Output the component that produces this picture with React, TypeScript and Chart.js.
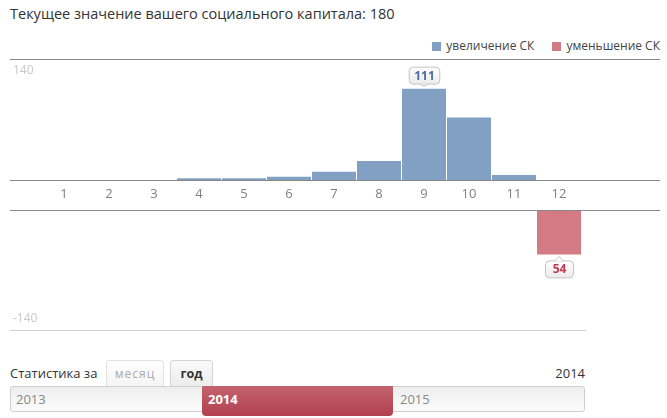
import React, { useEffect, useRef } from 'react';
import { Chart, registerables } from 'chart.js';

Chart.register(...registerables);

const FONT = '"Open Sans", sans-serif';

// data
const months = ['1', '2', '3', '4', '5', '6', '7', '8', '9', '10', '11', '12'];
const increase = [0, 0, 0, 2, 2, 4, 10, 23, 111, 76, 6, 0];
const decrease = [0, 0, 0, 0, 0, 0, 0, 0, 0, 0, 0, -54];
const topTick = 140;
const bottomTick = -140;
const currentValue = 180;
const years = ['2013', '2014', '2015'];
const selectedYear = '2014';

const BLUE = '#829fc4';
const RED = '#d47a85';

// draws the zero line, the edge tick label and the badge over the biggest bar
const decorPlugin = {
  id: 'decor',
  afterDatasetsDraw(chart: any, _args: any, opts: any) {
    const { ctx, chartArea, scales } = chart;
    const y = scales.y;
    const w = chart.width;
    ctx.save();

    const zero = Math.round(y.getPixelForValue(0)) + 0.5;
    ctx.strokeStyle = '#888';
    ctx.lineWidth = 1;
    ctx.beginPath();
    ctx.moveTo(0, zero);
    ctx.lineTo(w, zero);
    ctx.stroke();

    if (opts.bottomLine) {
      const b = Math.round(chartArea.bottom) + 0.5;
      ctx.strokeStyle = '#d0d0d0';
      ctx.beginPath();
      ctx.moveTo(0, b);
      ctx.lineTo(chartArea.right + 4.5, b);
      ctx.stroke();
    }

    // edge tick label
    ctx.font = `12px ${FONT}`;
    ctx.fillStyle = '#c8c8c8';
    ctx.textAlign = 'left';
    ctx.textBaseline = opts.tick > 0 ? 'top' : 'bottom';
    ctx.fillText(String(opts.tick), 3, y.getPixelForValue(opts.tick));

    // badge
    const data: number[] = chart.data.datasets[0].data;
    let idx = 0;
    data.forEach((v, i) => {
      if (Math.abs(v) > Math.abs(data[idx])) idx = i;
    });
    const bar = chart.getDatasetMeta(0).data[idx];
    const text = String(Math.abs(data[idx]));
    ctx.font = `bold 12px ${FONT}`;
    const bw = Math.max(28, ctx.measureText(text).width + 10);
    const bh = 17;
    const cx = Math.round(bar.x);
    const up = data[idx] > 0;
    const tip = up ? bar.y - 2 : bar.y + 2;
    const top = up ? tip - 3 - bh : tip + 4;
    const left = cx - bw / 2;
    const g = ctx.createLinearGradient(0, top, 0, top + bh);
    g.addColorStop(0, '#ffffff');
    g.addColorStop(1, '#ececec');
    ctx.fillStyle = g;
    ctx.strokeStyle = '#c4c4c4';
    ctx.beginPath();
    ctx.roundRect(left + 0.5, top + 0.5, bw, bh, 4);
    ctx.fill();
    ctx.stroke();
    // pointer
    ctx.beginPath();
    if (up) {
      ctx.moveTo(cx - 4, top + bh + 0.5);
      ctx.lineTo(cx, tip);
      ctx.lineTo(cx + 4, top + bh + 0.5);
    } else {
      ctx.moveTo(cx - 4, top + 0.5);
      ctx.lineTo(cx, tip);
      ctx.lineTo(cx + 4, top + 0.5);
    }
    ctx.fillStyle = up ? '#ececec' : '#ffffff';
    ctx.fill();
    ctx.stroke();
    ctx.fillStyle = opts.labelColor;
    ctx.textAlign = 'center';
    ctx.textBaseline = 'middle';
    ctx.fillText(text, cx + 0.5, top + bh / 2 + 1);
    ctx.restore();
  },
};

const baseOptions = (min: number, max: number, showX: boolean, decor: any, bottomPad: number) => ({
  responsive: true,
  maintainAspectRatio: false,
  animation: false as const,
  layout: { padding: { left: 31.5, right: 78.5, top: 0, bottom: bottomPad } },
  plugins: {
    legend: { display: false },
    tooltip: { enabled: false },
    decor,
  },
  scales: {
    x: {
      display: showX,
      grid: { display: false, drawTicks: false },
      border: { display: false },
      ticks: { color: '#808080', font: { family: FONT, size: 13 }, padding: 6 },
      afterFit: (scale: any) => {
        if (showX) scale.height = 30;
      },
    },
    y: { display: false, min, max },
  },
});

const BarPanel = ({
  values,
  color,
  min,
  max,
  showX,
  decor,
  height,
  bottomPad,
}: {
  values: number[];
  color: string;
  min: number;
  max: number;
  showX: boolean;
  decor: any;
  height: number;
  bottomPad: number;
}) => {
  const ref = useRef<HTMLCanvasElement>(null);
  const chart = useRef<Chart<'bar', number[], string>>();

  useEffect(() => {
    if (chart.current) chart.current.destroy();
    const ctx = ref.current?.getContext('2d');
    if (!ctx) return;
    chart.current = new Chart(ctx, {
      type: 'bar',
      data: {
        labels: months,
        datasets: [
          {
            data: values,
            backgroundColor: color,
            borderWidth: 0,
            categoryPercentage: 1,
            barPercentage: 44 / 45,
          },
        ],
      },
      options: baseOptions(min, max, showX, decor, bottomPad) as any,
      plugins: [decorPlugin],
    });
    return () => {
      if (chart.current) chart.current.destroy();
    };
  }, []);

  return (
    <div style={{ position: 'relative', width: 650, height }}>
      <canvas ref={ref} />
    </div>
  );
};

const App = () => {
  return (
    <div
      style={{
        position: 'absolute',
        left: 0,
        top: 0,
        width: 667,
        height: 418,
        fontFamily: FONT,
        color: '#333',
        background: '#fff',
      }}
    >
      <div style={{ position: 'absolute', left: 10, top: 4, fontSize: 14.5, lineHeight: '20px' }}>
        Текущее значение вашего социального капитала: {currentValue}
      </div>

      <div
        style={{
          position: 'absolute',
          right: 7,
          top: 38,
          fontSize: 12,
          lineHeight: '16px',
          display: 'flex',
          gap: 18,
          color: '#444',
        }}
      >
        <span style={{ display: 'flex', alignItems: 'center' }}>
          <span style={{ width: 9, height: 9, background: BLUE, marginRight: 5 }} />
          увеличение СК
        </span>
        <span style={{ display: 'flex', alignItems: 'center' }}>
          <span style={{ width: 9, height: 9, background: RED, marginRight: 5 }} />
          уменьшение СК
        </span>
      </div>

      <div style={{ position: 'absolute', left: 10, top: 59, width: 650, height: 1, background: '#888' }} />

      <div style={{ position: 'absolute', left: 10, top: 59 }}>
        <BarPanel
          values={increase}
          color={BLUE}
          min={0}
          max={147}
          showX
          height={151}
          bottomPad={0}
          decor={{ tick: topTick, labelColor: '#4a6ea3' }}
        />
      </div>

      <div style={{ position: 'absolute', left: 10, top: 210 }}>
        <BarPanel
          values={decrease}
          color={RED}
          min={-146}
          max={0}
          showX={false}
          height={122}
          bottomPad={2}
          decor={{ tick: bottomTick, labelColor: '#c23a52', bottomLine: true }}
        />
      </div>

      <div style={{ position: 'absolute', left: 10, top: 364, fontSize: 13, lineHeight: '18px' }}>
        Статистика за
      </div>
      <div
        style={{
          position: 'absolute',
          left: 106,
          top: 360,
          width: 58,
          height: 26,
          boxSizing: 'border-box',
          border: '1px solid #e2e2e2',
          borderBottom: 'none',
          borderRadius: '4px 4px 0 0',
          background: 'linear-gradient(#ffffff, #f4f4f4)',
          color: '#aaa',
          fontSize: 12,
          letterSpacing: 1,
          textAlign: 'center',
          lineHeight: '25px',
        }}
      >
        месяц
      </div>
      <div
        style={{
          position: 'absolute',
          left: 170,
          top: 360,
          width: 43,
          height: 27,
          boxSizing: 'border-box',
          border: '1px solid #d4d4d4',
          borderBottom: 'none',
          borderRadius: '4px 4px 0 0',
          background: 'linear-gradient(#fafafa, #ececec)',
          color: '#333',
          fontWeight: 'bold',
          fontSize: 12.5,
          textAlign: 'center',
          lineHeight: '25px',
        }}
      >
        год
      </div>
      <div style={{ position: 'absolute', right: 82, top: 364, fontSize: 13, lineHeight: '18px' }}>
        {selectedYear}
      </div>

      <div
        style={{
          position: 'absolute',
          left: 10,
          top: 386,
          width: 575,
          height: 26,
          boxSizing: 'border-box',
          border: '1px solid #d0d0d0',
          borderRadius: 3,
          background: 'linear-gradient(#eeeeee, #fbfbfb)',
        }}
      />
      {years.map((y, i) => {
        const sel = y === selectedYear;
        const left = 10 + i * 192;
        return (
          <div
            key={y}
            style={{
              position: 'absolute',
              left,
              top: 386,
              width: 191,
              height: sel ? 30 : 26,
              boxSizing: 'border-box',
              paddingLeft: 6,
              borderRadius: sel ? '0 0 4px 4px' : 0,
              background: sel ? 'linear-gradient(#c4636f, #b2404f)' : 'transparent',
              color: sel ? '#fff' : '#888',
              fontWeight: sel ? 'bold' : 'normal',
              fontSize: 13,
              lineHeight: '26px',
            }}
          >
            {y}
          </div>
        );
      })}
    </div>
  );
};

export default App;
